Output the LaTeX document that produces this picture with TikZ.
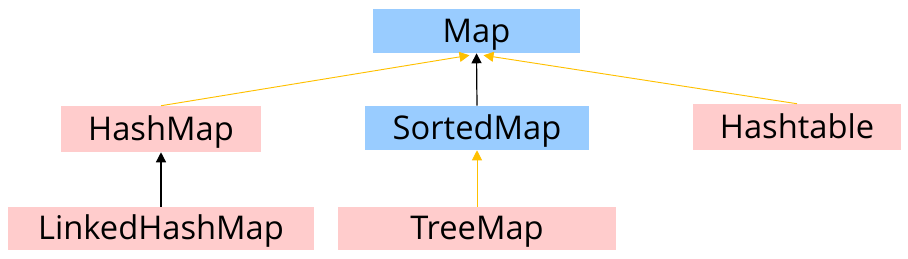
\documentclass[tikz,border=0pt]{standalone}
\usepackage{fontspec}
\setmainfont{Open Sans}
\usetikzlibrary{arrows.meta,positioning,calc}
\definecolor{ifblue}{HTML}{99CCFF}
\definecolor{clspink}{HTML}{FFCCCC}
\definecolor{arryel}{HTML}{FFC000}
\tikzset{
  blk/.style={rectangle,inner sep=0pt,font=\fontsize{24.5}{28}\selectfont,text=black,text height=17.5pt,text depth=1pt},
  ifblk/.style={blk,fill=ifblue},
  clsblk/.style={blk,fill=clspink},
  arr/.style={-{Triangle[length=7.5pt,width=7.5pt]},line width=0.9pt,black},
  yarr/.style={-{Triangle[length=7.5pt,width=7.5pt]},line width=0.7pt,arryel}
}
\begin{document}
\begin{tikzpicture}[x=0.75pt,y=-0.75pt]
  \useasboundingbox (0,0) rectangle (908,258);
  % Interfaces
  \node[ifblk, minimum width=155.25pt, minimum height=33pt] (map) at (476.5,31) {Map};
  \node[ifblk, minimum width=168pt, minimum height=33pt] (sortedmap) at (477,128) {SortedMap};

  % Classes
  \node[clsblk, minimum width=150pt, minimum height=34.5pt] (hashmap) at (161,129) {HashMap};
  \node[clsblk, minimum width=156pt, minimum height=34.5pt] (hashtable) at (797,127) {Hashtable};
  \node[clsblk, minimum width=229.5pt, minimum height=32.25pt] (linkedhashmap) at (161,228.5) {LinkedHashMap};
  \node[clsblk, minimum width=208.5pt, minimum height=32.25pt] (treemap) at (477,228.5) {TreeMap};

  % Arrow ends under Map
  \coordinate (mapL) at ($(map.south)+(-7,2)$);
  \coordinate (mapR) at ($(map.south)+(7,2)$);

  % Connections
  \draw[yarr] (hashmap.north) -- (mapL);
  \draw[yarr] (hashtable.north) -- (mapR);
  \draw[arr] (sortedmap.north) -- (map.south);
  \draw[arr] (linkedhashmap.north) -- (hashmap.south);
  \draw[yarr] (treemap.north) -- (sortedmap.south);
\end{tikzpicture}
\end{document}
